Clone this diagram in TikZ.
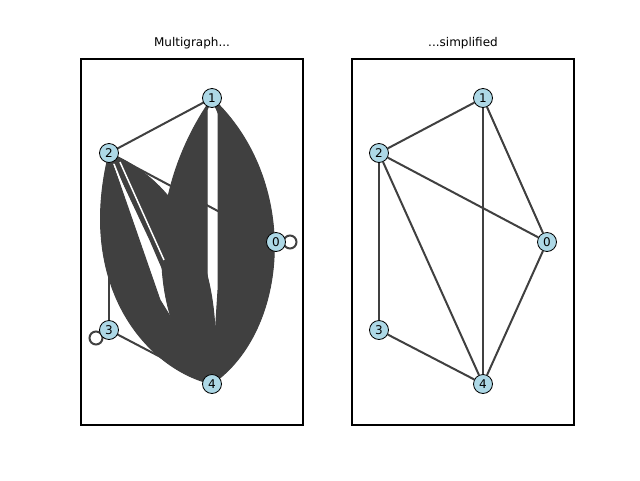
\documentclass[tikz,border=0pt]{standalone}
\usepackage{fontspec}
\setmainfont{DejaVu Sans}
\usetikzlibrary{positioning, calc}
\definecolor{edgegray}{HTML}{404040}
\definecolor{nodeblue}{HTML}{ADD8E6}
\tikzset{vertex/.style={circle, draw=black, fill=nodeblue, line width=0.8pt, minimum size=19pt, inner sep=0pt, font=\fontsize{12}{12}\selectfont}}
\tikzset{edge/.style={draw=edgegray, line width=2pt}}
\tikzset{bundle/.style={fill=edgegray, draw=edgegray, line width=1pt}}
\tikzset{frame/.style={draw=black, line width=1.5pt}}
\tikzset{title/.style={font=\fontsize{12}{12}\selectfont}}

\begin{document}
\begin{tikzpicture}[x=1pt, y=-1pt]

\useasboundingbox (0,0) rectangle (640,480);

% left: multigraph
\coordinate (a0) at (276,242);
\coordinate (a1) at (212,98);
\coordinate (a2) at (109,153);
\coordinate (a3) at (109,330);
\coordinate (a4) at (212,384);

\draw [edge] (a2) -- (a1);
\draw [edge] (a2) -- (a0);
\draw [edge] (a2) -- (a3);
\draw [edge] (a3) -- (a4);
\draw [edge] (a0) -- (a4);
\draw [edge] (a1) -- (a0);
\draw [edge] (a0) ++(14,0) circle (6.5);
\draw [edge] (a3) ++(-13,8) circle (6.5);

\fill [bundle] (a2) .. controls (75,290) and (150,370) .. (a4) -- (160,300) -- cycle;
\fill [bundle] (a2) .. controls (200,190) and (225,300) .. (a4) -- (150,240) -- cycle;
\fill [bundle] (a1) .. controls (140,200) and (150,330) .. (a4) -- (207,290) -- (207,110) -- cycle;
\fill [bundle] (a1) .. controls (300,180) and (290,330) .. (a4) -- (218,290) -- (218,110) -- cycle;
\draw [white, line width=1.5pt] (114,164) -- (161,283);
\draw [white, line width=1.5pt] (120,162) -- (164,260);

\node (p0) [vertex] at (a0) {0};
\node (p1) [vertex] at (a1) {1};
\node (p2) [vertex] at (a2) {2};
\node (p3) [vertex] at (a3) {3};
\node (p4) [vertex] at (a4) {4};

\draw [frame] (81,59) rectangle (303,425);
\node (lefttitle) [title] at (192,43) {Multigraph...};

% right: simplified
\node (q0) [vertex] at (547,242) {0};
\node (q1) [vertex] at (483,98) {1};
\node (q2) [vertex] at (379,153) {2};
\node (q3) [vertex] at (379,330) {3};
\node (q4) [vertex] at (483,384) {4};

\draw [edge] (q1) -- (q2);
\draw [edge] (q1) -- (q0);
\draw [edge] (q1) -- (q4);
\draw [edge] (q2) -- (q0);
\draw [edge] (q2) -- (q3);
\draw [edge] (q2) -- (q4);
\draw [edge] (q3) -- (q4);
\draw [edge] (q0) -- (q4);

\draw [frame] (352,59) rectangle (574,425);
\node (righttitle) [title] at (463,43) {...simplified};

\end{tikzpicture}
\end{document}
